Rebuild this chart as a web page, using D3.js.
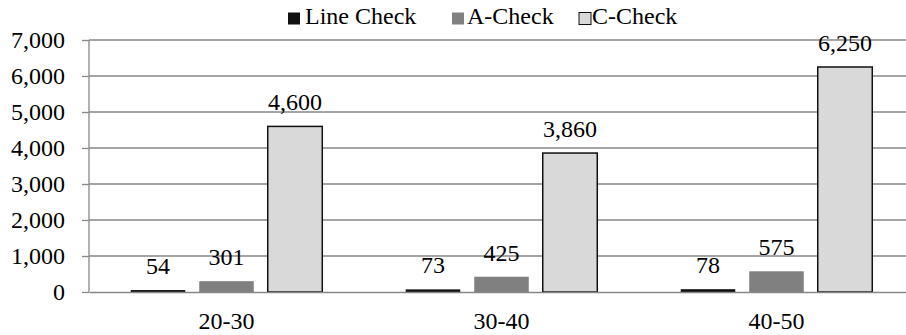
<!DOCTYPE html>
<html>
<head>
<meta charset="utf-8">
<script src="https://cdn.jsdelivr.net/npm/d3@7/dist/d3.min.js"></script>
<style>
  html, body { margin: 0; padding: 0; background: #fff; }
  svg { display: block; overflow: hidden; }
  svg text { font-family: "Liberation Serif", "DejaVu Serif", "Times New Roman", Times, serif; fill: #000; }
</style>
</head>
<body>
<svg id="chart" width="906" height="335"></svg>
<script>
// Maintenance check cost by aircraft age band
const categories = ["20-30", "30-40", "40-50"];
const seriesNames = ["Line Check", "A-Check", "C-Check"];
const lineCheck = [54, 73, 78];
const aCheck = [301, 425, 575];
const cCheck = [4600, 3860, 6250];
const yTicks = [0, 1000, 2000, 3000, 4000, 5000, 6000, 7000];

const seriesValues = [lineCheck, aCheck, cCheck];
const seriesFill = ["#111111", "#808080", "#d9d9d9"];
const seriesStroke = ["none", "none", "#111111"];

const svg = d3.select("#chart");
const fmt = d3.format(",");
const fontSize = 24;
const serif = '"Liberation Serif", "DejaVu Serif", "Times New Roman", Times, serif';
const gridColor = "#878787";

const plot = { left: 89, right: 914, top: 40, bottom: 292 };

const x0 = d3.scaleBand().domain(categories).range([plot.left, plot.right]);
const x1 = d3.scaleBand().domain(seriesNames)
  .range([0, x0.bandwidth()])
  .paddingInner(0.204)
  .paddingOuter(0.609);
const y = d3.scaleLinear().domain([0, 7000]).range([plot.bottom, plot.top]);

// Horizontal gridlines
svg.append("g")
  .selectAll("line")
  .data(yTicks.filter(d => d > 0))
  .join("line")
  .attr("x1", plot.left).attr("x2", plot.right)
  .attr("y1", d => y(d)).attr("y2", d => y(d))
  .attr("stroke", gridColor).attr("stroke-width", 1.3);

// Y axis
const yAxis = d3.axisLeft(y).tickValues(yTicks).tickFormat(fmt).tickSize(7).tickPadding(17);
const gy = svg.append("g").attr("transform", `translate(${plot.left},0)`).call(yAxis)
  .attr("font-family", serif).attr("font-size", fontSize);
gy.select(".domain").remove();
gy.selectAll(".tick line").attr("stroke", gridColor).attr("stroke-width", 1.3);
gy.selectAll(".tick text").attr("fill", "#000");
svg.append("line")
  .attr("x1", plot.left).attr("x2", plot.left)
  .attr("y1", plot.top).attr("y2", plot.bottom)
  .attr("stroke", gridColor).attr("stroke-width", 1.3);

// Bars
const groups = svg.append("g")
  .selectAll("g")
  .data(categories)
  .join("g")
  .attr("transform", d => `translate(${x0(d)},0)`);

groups.each(function(cat, ci) {
  const g = d3.select(this);
  seriesNames.forEach((s, si) => {
    const v = seriesValues[si][ci];
    g.append("rect")
      .attr("x", x1(s))
      .attr("y", y(v))
      .attr("width", x1.bandwidth())
      .attr("height", y(0) - y(v))
      .attr("fill", seriesFill[si])
      .attr("stroke", seriesStroke[si])
      .attr("stroke-width", 1.5);
  });
});

// Category axis baseline
const xAxis = d3.axisBottom(x0).tickSize(0).tickPadding(20);
const gx = svg.append("g").attr("transform", `translate(0,${plot.bottom})`).call(xAxis)
  .attr("font-family", serif).attr("font-size", fontSize);
gx.select(".domain").attr("stroke", gridColor).attr("stroke-width", 1.3);
gx.selectAll(".tick text").attr("fill", "#000");

// Value labels
groups.each(function(cat, ci) {
  const g = d3.select(this);
  seriesNames.forEach((s, si) => {
    const v = seriesValues[si][ci];
    g.append("text")
      .attr("x", x1(s) + x1.bandwidth() / 2)
      .attr("y", y(v) - 16)
      .attr("text-anchor", "middle")
      .attr("font-family", serif)
      .attr("font-size", fontSize)
      .text(fmt(v));
  });
});

// Legend
const legendSwatchX = [288, 452, 579];
const legendTextX = [305, 467, 592];
const legend = svg.append("g");
seriesNames.forEach((s, si) => {
  legend.append("rect")
    .attr("x", legendSwatchX[si]).attr("y", 12.5)
    .attr("width", 12).attr("height", 12)
    .attr("fill", seriesFill[si])
    .attr("stroke", si === 2 ? "#111111" : "none")
    .attr("stroke-width", 1);
  legend.append("text")
    .attr("x", legendTextX[si]).attr("y", 24)
    .attr("font-family", serif)
    .attr("font-size", fontSize)
    .text(s);
});
</script>
</body>
</html>
